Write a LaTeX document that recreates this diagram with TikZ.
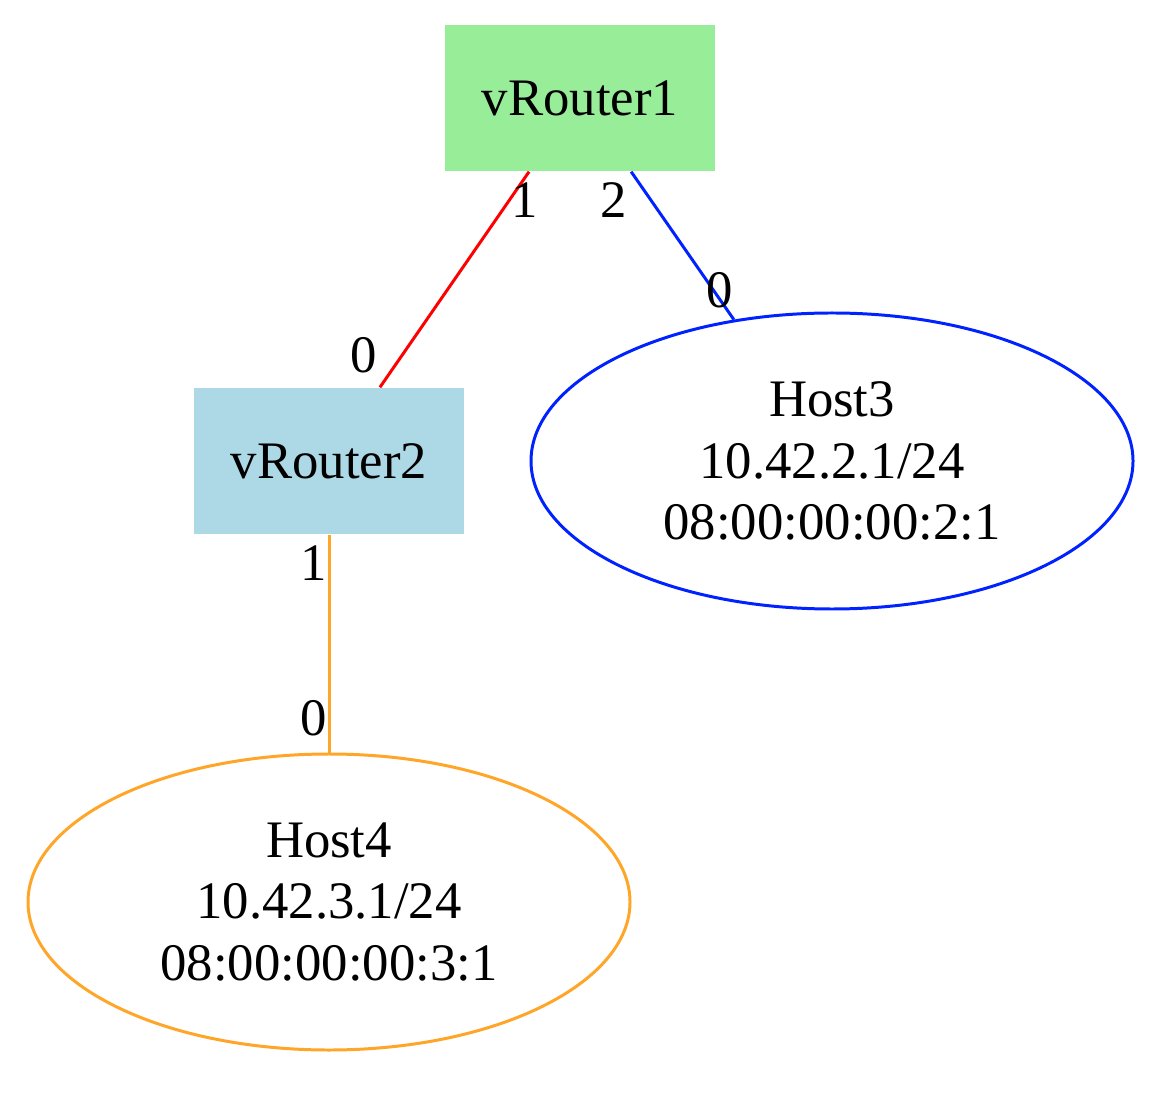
\documentclass[tikz,border=0pt]{standalone}
\usepackage{fontspec}
\setmainfont{Liberation Serif}
\usetikzlibrary{shapes.geometric,positioning,calc}
\definecolor{palegreen}{HTML}{98EE98}
\definecolor{lightblue}{HTML}{ADD8E6}
\definecolor{gvorange}{HTML}{FFA528}
\definecolor{gvblue}{HTML}{0022FF}
\definecolor{gvred}{HTML}{FF0000}
\tikzset{
	router/.style={rectangle,minimum width=2.7cm,minimum height=1.46cm,inner sep=0pt,font=\fontsize{15}{17}\selectfont},
	host/.style={ellipse,draw,line width=0.85pt,minimum width=6.02cm,minimum height=2.96cm,inner sep=0pt,align=center,font=\fontsize{15}{17.5}\selectfont},
	port/.style={inner sep=0pt,font=\fontsize{15}{17}\selectfont},
	link/.style={line width=0.85pt},
}
\begin{document}
\begin{tikzpicture}
	\useasboundingbox (0,0) rectangle (11.70,-10.98);
	\node[router,fill=palegreen] (vr1) at (5.80,-0.98) {vRouter1};
	\node[router,fill=lightblue] (vr2) at (3.29,-4.61) {vRouter2};
	\node[host,draw=gvblue] (host3) at (8.32,-4.61) {Host3\\10.42.2.1/24\\08:00:00:00:2:1};
	\node[host,draw=gvorange] (host4) at (3.29,-9.02) {Host4\\10.42.3.1/24\\08:00:00:00:3:1};
	% links
	\draw[link,gvred] (vr1) -- (vr2);
	\draw[link,gvblue] (vr1) -- (host3);
	\draw[link,gvorange] (vr2) -- (host4);
	% port numbers
	\node[port] (p11) at (5.25,-2.00) {1};
	\node[port] (p12) at (6.14,-2.00) {2};
	\node[port] (p30) at (7.20,-2.90) {0};
	\node[port] (p20) at (3.64,-3.55) {0};
	\node[port] (p21) at (3.14,-5.63) {1};
	\node[port] (p40) at (3.14,-7.18) {0};
\end{tikzpicture}
\end{document}
